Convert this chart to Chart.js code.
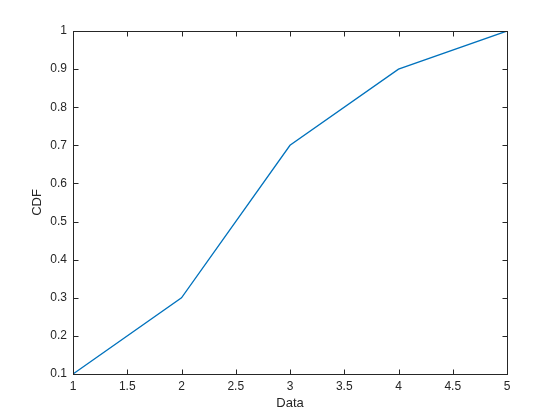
<!DOCTYPE html>
<html>
<head>
<meta charset="utf-8">
<script src="https://cdn.jsdelivr.net/npm/chart.js@4"></script>
<style>
  html, body { margin: 0; padding: 0; background: #fff; }
  #wrap { width: 560px; height: 420px; }
</style>
</head>
<body>
<div id="wrap"><canvas id="cdfChart" width="560" height="420"></canvas></div>
<script>
const dataX = [1, 2, 3, 4, 5];
const cdfY = [0.1, 0.3, 0.7, 0.9, 1.0];
const xTicks = [1, 1.5, 2, 2.5, 3, 3.5, 4, 4.5, 5];
const yTicks = [0.1, 0.2, 0.3, 0.4, 0.5, 0.6, 0.7, 0.8, 0.9, 1];

const axisColor = "#262626";
const lineColor = "#0072BD";
const font = "'Liberation Sans', Arial, sans-serif";

// MATLAB-like box with inward ticks on all four sides
const boxTicks = {
  id: "boxTicks",
  afterDraw(chart) {
    const { ctx, chartArea: a, scales } = chart;
    const len = 5;
    ctx.save();
    ctx.strokeStyle = axisColor;
    ctx.lineWidth = 1;
    const L = Math.round(a.left) + 0.5, R = Math.round(a.right) + 0.5;
    const T = Math.round(a.top) + 0.5, B = Math.round(a.bottom) + 0.5;
    ctx.strokeRect(L, T, R - L, B - T);
    ctx.beginPath();
    xTicks.forEach((v) => {
      const x = Math.round(scales.x.getPixelForValue(v)) + 0.5;
      ctx.moveTo(x, B); ctx.lineTo(x, B - len);
      ctx.moveTo(x, T); ctx.lineTo(x, T + len);
    });
    yTicks.forEach((v) => {
      const y = Math.round(scales.y.getPixelForValue(v)) + 0.5;
      ctx.moveTo(L, y); ctx.lineTo(L + len, y);
      ctx.moveTo(R, y); ctx.lineTo(R - len, y);
    });
    ctx.stroke();
    ctx.restore();
  }
};

new Chart(document.getElementById("cdfChart"), {
  type: "scatter",
  data: {
    datasets: [{
      data: dataX.map((x, i) => ({ x, y: cdfY[i] })),
      showLine: true,
      borderColor: lineColor,
      borderWidth: 1.3,
      pointRadius: 0,
      tension: 0
    }]
  },
  options: {
    responsive: false,
    animation: false,
    layout: { padding: { top: 31, right: 53, bottom: 0, left: 0 } },
    plugins: { legend: { display: false }, tooltip: { enabled: false } },
    scales: {
      x: {
        type: "linear",
        min: 1, max: 5,
        afterFit: (s) => { s.height = 46; },
        afterBuildTicks: (s) => { s.ticks = xTicks.map((v) => ({ value: v })); },
        grid: { display: false, drawTicks: false },
        border: { display: false },
        ticks: {
          color: axisColor, padding: 5,
          font: { family: font, size: 12 },
          callback: (v) => String(+v.toFixed(1))
        },
        title: {
          display: true, text: "Data", color: axisColor,
          font: { family: font, size: 13 },
          padding: { top: 2, bottom: 9 }
        }
      },
      y: {
        min: 0.1, max: 1,
        afterFit: (s) => { s.width = 73; },
        afterBuildTicks: (s) => { s.ticks = yTicks.map((v) => ({ value: v })); },
        grid: { display: false, drawTicks: false },
        border: { display: false },
        ticks: {
          color: axisColor, padding: 6,
          font: { family: font, size: 12 },
          callback: (v) => String(+v.toFixed(1))
        },
        title: {
          display: true, text: "CDF", color: axisColor,
          font: { family: font, size: 13 },
          padding: { top: 30, bottom: 0 }
        }
      }
    }
  },
  plugins: [boxTicks]
});
</script>
</body>
</html>
